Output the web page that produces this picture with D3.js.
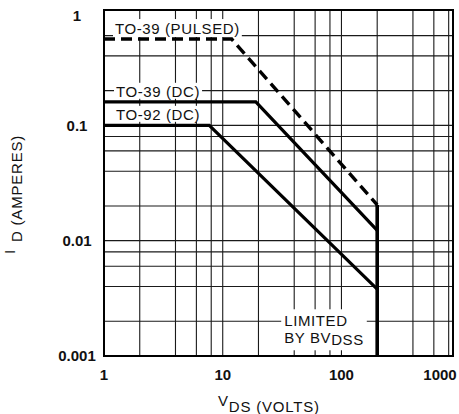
<!DOCTYPE html>
<html><head><meta charset="utf-8">
<script src="https://cdn.jsdelivr.net/npm/d3@7"></script>
<style>
body{margin:0;background:#fff}
svg{display:block}
text{font-family:"Liberation Sans",Arial,Helvetica,sans-serif;fill:#111}
</style>
</head><body>
<svg id="c" width="459" height="414"></svg>
<script>
// ---- data ----
const xTickValues = [1, 10, 100, 1000];
const xTickLabels = ["1", "10", "100", "1000"];
const yTickValues = [0.001, 0.01, 0.1, 1];
const yTickLabels = ["0.001", "0.01", "0.1", "1"];
const xMinorGrid = [2, 4, 6, 8, 20, 40, 60, 80, 200, 400, 600, 800];
const yMinorGrid = [0.002, 0.004, 0.006, 0.008, 0.02, 0.04, 0.06, 0.08, 0.2, 0.4, 0.6];
const pulsedV = [1, 11.9, 200];
const pulsedI = [0.56, 0.56, 0.0204];
const to39V = [1, 19, 200];
const to39I = [0.16, 0.16, 0.0123];
const to92V = [1, 7.7, 200];
const to92I = [0.1, 0.1, 0.0038];
const bvV = [200, 200];
const bvI = [0.001, 0.0204];
const xMax = 870;

// ---- layout ----
const W = 459, H = 414;
const L = 104, R = 453, T = 10, B = 356;
const svg = d3.select("#c");
const x = d3.scaleLog().domain([1, xMax]).range([L, R]);
const y = d3.scaleLog().domain([0.001, 1]).range([B, T]);

const grid = svg.append("g").attr("stroke", "#1a1a1a").attr("stroke-width", 1.1);
grid.selectAll("line.vx").data(xTickValues.concat(xMinorGrid).filter(v => v > 1 && v < xMax))
  .join("line").attr("x1", d => x(d)).attr("x2", d => x(d)).attr("y1", T).attr("y2", B);
grid.selectAll("line.hy").data(yTickValues.concat(yMinorGrid).filter(v => v > 0.001 && v < 1))
  .join("line").attr("y1", d => y(d)).attr("y2", d => y(d)).attr("x1", L).attr("x2", R);

// ---- labels with white boxes ----
const labG = svg.append("g");
function boxedText(lines, fs, pad) {
  const g = labG.append("g");
  const rect = g.append("rect").attr("fill", "#fff");
  const t = g.append("g");
  lines.forEach(l => {
    const te = t.append("text").attr("x", l.x).attr("y", l.y)
      .attr("font-size", fs).attr("letter-spacing", 0.6);
    l.parts.forEach(p => te.append("tspan").attr("dy", p.dy || 0).text(p.t));
  });
  const bb = t.node().getBBox();
  rect.attr("x", bb.x - pad[0]).attr("y", bb.y - pad[1])
    .attr("width", bb.width + 2 * pad[0]).attr("height", bb.height + 2 * pad[1] - 1);
}
boxedText([{x: x(1) + 11, y: y(pulsedI[0]) - 5, parts: [{t: "TO-39 (PULSED)"}]}], 15, [2, 1]);
boxedText([{x: x(1) + 12, y: y(to39I[0]) - 5, parts: [{t: "TO-39 (DC)"}]}], 15, [2, 0]);
boxedText([{x: x(1) + 12, y: y(to92I[0]) - 5.5, parts: [{t: "TO-92 (DC)"}]}], 15, [2, 0]);
boxedText([
  {x: x(40) - 10, y: y(0.002) + 5, parts: [{t: "LIMITED"}]},
  {x: x(40) - 10, y: y(0.002) + 22, parts: [{t: "BY BV"}, {t: "DSS", dy: 2}]}
], 15, [3, 3]);

// ---- series ----
const line = d3.line().x(d => x(d[0])).y(d => y(d[1]));
const zip = (a, b) => a.map((v, i) => [v, b[i]]);
svg.append("path").datum(zip(to39V, to39I)).attr("d", line)
  .attr("fill", "none").attr("stroke", "#000").attr("stroke-width", 3.2).attr("stroke-linejoin", "miter");
svg.append("path").datum(zip(to92V, to92I)).attr("d", line)
  .attr("fill", "none").attr("stroke", "#000").attr("stroke-width", 3.2);
svg.append("path").datum(zip(pulsedV, pulsedI)).attr("d", line)
  .attr("fill", "none").attr("stroke", "#000").attr("stroke-width", 3.4)
  .attr("stroke-dasharray", "11,6");
svg.append("path").datum(zip(bvV, bvI)).attr("d", line)
  .attr("fill", "none").attr("stroke", "#000").attr("stroke-width", 3.6);

// ---- frame ----
svg.append("rect").attr("x", L).attr("y", T).attr("width", R - L).attr("height", B - T)
  .attr("fill", "none").attr("stroke", "#000").attr("stroke-width", 2);

// ---- tick labels ----
svg.append("g").selectAll("text").data(xTickValues).join("text")
  .attr("x", d => Math.min(x(d), W - 19)).attr("y", 380)
  .attr("text-anchor", "middle").attr("font-size", 15).attr("font-weight", "bold")
  .text((d, i) => xTickLabels[i]);
svg.append("g").selectAll("text").data(yTickValues).join("text")
  .attr("x", 77).attr("y", d => Math.max(y(d), T + 6)).attr("dy", "0.35em")
  .attr("text-anchor", "middle").attr("font-size", 15).attr("font-weight", "bold")
  .text((d, i) => yTickLabels[i]);

// ---- axis titles ----
const xt = svg.append("text").attr("x", 218).attr("y", 406).attr("font-size", 15).attr("letter-spacing", 0.8);
xt.append("tspan").text("V");
xt.append("tspan").attr("dy", 6).text("DS (VOLTS)");
const yt = svg.append("text").attr("transform", "translate(15,254) rotate(-90)")
  .attr("font-size", 15).attr("letter-spacing", 0.8);
yt.append("tspan").text("I");
yt.append("tspan").attr("dx", 7).attr("dy", 7).text("D (AMPERES)");
</script>
</body></html>
